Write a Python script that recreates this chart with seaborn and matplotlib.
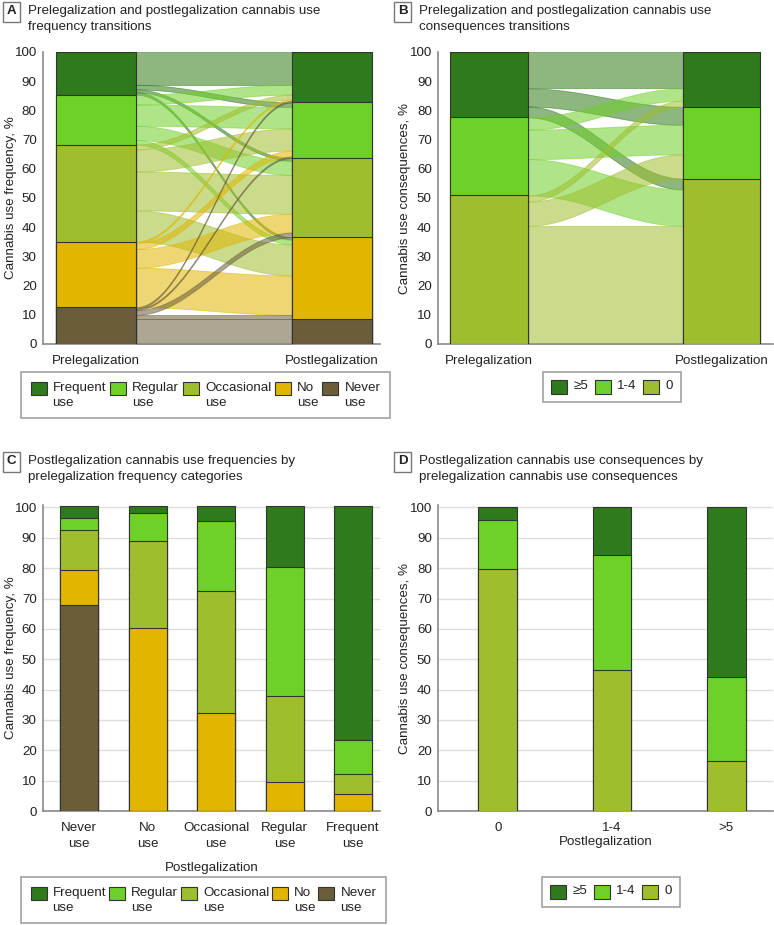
import numpy as np
import pandas as pd
import matplotlib
matplotlib.use("Agg")
import matplotlib.pyplot as plt
from matplotlib.patches import Patch
import seaborn as sns

# categories, listed top to bottom as stacked in the bars
freq_cats = ["Frequent use", "Regular use", "Occasional use", "No use", "Never use"]
freq_labels = ["Frequent\nuse", "Regular\nuse", "Occasional\nuse", "No\nuse", "Never\nuse"]
freq_colors = ["#2f7a1a", "#6ed127", "#9fbe2e", "#e1b500", "#6a5d3a"]
cons_cats = ["≥5", "1-4", "0"]
cons_colors = ["#2f7a1a", "#6ed127", "#9fbe2e"]
periods = ["Prelegalization", "Postlegalization"]

# A: prelegalization use frequency distribution, % (top to bottom)
pre_freq = [14.6, 17.1, 33.2, 22.5, 12.6]

# C: postlegalization frequency (%) within each prelegalization category
c_groups = ["Never\nuse", "No\nuse", "Occasional\nuse", "Regular\nuse", "Frequent\nuse"]
c_frequent = [4.0, 2.3, 5.0, 19.9, 77.1]
c_regular = [3.9, 9.2, 23.0, 42.7, 11.0]
c_occasional = [13.0, 28.7, 40.3, 28.4, 6.7]
c_no = [11.6, 60.2, 32.2, 9.4, 5.6]
c_never = [67.9, 0.0, 0.0, 0.0, 0.0]

# B: prelegalization consequences distribution, % (>=5, 1-4, 0)
pre_cons = [22.4, 26.7, 50.9]

# D: postlegalization consequences (%) within each prelegalization category
d_groups = ["0", "1-4", ">5"]
d_ge5 = [4.1, 15.7, 55.7]
d_1to4 = [16.3, 37.8, 27.7]
d_0 = [79.6, 46.5, 16.6]

sns.set_theme(style="white")
plt.rcParams["font.family"] = ["Liberation Sans", "DejaVu Sans"]
plt.rcParams["text.color"] = "#222222"
plt.rcParams["axes.labelcolor"] = "#222222"
plt.rcParams["xtick.color"] = "#222222"
plt.rcParams["ytick.color"] = "#222222"

FS = 9.6
EDGE = "#333333"
W, H = 774, 925

fig = plt.figure(figsize=(W / 100, H / 100), dpi=100)


def px_axes(x0, x1, y0, y1):
    return fig.add_axes([x0 / W, 1 - y1 / H, (x1 - x0) / W, (y1 - y0) / H])


def style_axes(ax, ylabel, x0, grid=False):
    for s in ["top", "right"]:
        ax.spines[s].set_visible(False)
    for s in ["left", "bottom"]:
        ax.spines[s].set_color("#8a8a8a")
        ax.spines[s].set_linewidth(1.2)
    ax.tick_params(axis="both", length=3, width=1, color="#8a8a8a", labelsize=FS)
    ax.tick_params(axis="y", pad=1.5)
    ax.tick_params(axis="x", pad=5)
    ax.set_yticks(range(0, 101, 10))
    ax.set_ylabel(ylabel, fontsize=FS)
    # place the y label near the figure's panel edge
    bbox = ax.get_position()
    ax.yaxis.set_label_coords((x0 + 17 - bbox.x0 * W) / (bbox.width * W), 0.5)
    if grid:
        ax.yaxis.grid(True, color="#dedede", lw=1)
        ax.set_axisbelow(True)


def stacked(ax, groups, layers, colors, width):
    # layers listed top to bottom; draw cumulative heights, tallest first
    vals = np.array(layers, dtype=float)
    for k in range(len(layers)):
        cum = vals[k:].sum(axis=0)
        df = pd.DataFrame({"group": groups, "cum": cum})
        sns.barplot(data=df, x="group", y="cum", order=groups, color=colors[k],
                    saturation=1, width=width, edgecolor=EDGE, linewidth=0.8,
                    errorbar=None, ax=ax, zorder=3)


def alluvial(ax, pre, share, colors, width):
    pre = np.array(pre, dtype=float)
    share = np.array(share, dtype=float)
    flows = pre[:, None] * share / share.sum(axis=1, keepdims=True)
    post = flows.sum(axis=0)
    src_top = 100 - np.concatenate([[0], np.cumsum(pre)[:-1]])
    dst_top = 100 - np.concatenate([[0], np.cumsum(post)[:-1]])
    xs = np.linspace(width / 2, 1 - width / 2, 200)
    t = (xs - xs[0]) / (xs[-1] - xs[0])
    s = (1 - np.cos(np.pi * t)) / 2
    n = len(pre)
    for i in range(n):
        for j in range(n):
            f = flows[i, j]
            if f <= 0:
                continue
            a = src_top[i] - flows[i, :j].sum()
            b = dst_top[j] - flows[:i, j].sum()
            top = a + (b - a) * s
            ax.fill_between(xs, top - f, top, facecolor=colors[i], edgecolor=colors[i],
                            alpha=0.55, lw=0.6, zorder=2)
    return post


def panel_title(letter, text, x_off, y_top):
    fig.text((x_off + 11.5) / W, 1 - (y_top + 8.5) / H, letter, ha="center", va="center",
             fontsize=FS, fontweight="bold",
             bbox=dict(boxstyle="square,pad=0.3", fc="white", ec="#777777", lw=1))
    fig.text((x_off + 28) / W, 1 - (y_top + 2) / H, text, ha="left", va="top", fontsize=FS,
             linespacing=1.45)


def legend(handles_colors, labels, x0, x1, y0, ncol, borderpad):
    handles = [Patch(facecolor=c, edgecolor=EDGE, lw=0.8) for c in handles_colors]
    leg = fig.legend(handles, labels, loc="upper left",
                     bbox_to_anchor=(x0 / W, 1 - y0 / H, (x1 - x0) / W, 0.001),
                     mode="expand", ncol=ncol, frameon=True, fancybox=False,
                     edgecolor="#8a8a8a", handlelength=1.2, handleheight=1.2,
                     handletextpad=0.45, columnspacing=0.8, borderpad=borderpad,
                     fontsize=FS, borderaxespad=0)
    leg.get_frame().set_linewidth(1.2)
    for txt in leg.get_texts():
        txt.set_linespacing(1.35)
    for col in leg._legend_handle_box.get_children():
        for row in col.get_children():
            row.align = "top"
    return leg


# ---- A: frequency transitions
c_share = np.array([c_frequent, c_regular, c_occasional, c_no, c_never]).T  # rows: pre Never..Frequent
share_a = c_share[::-1]  # rows: pre Frequent..Never
axA = px_axes(43, 380, 52, 344)
post_freq = alluvial(axA, pre_freq, share_a, freq_colors, 0.335)
stacked(axA, periods, [[p, q] for p, q in zip(pre_freq, post_freq)], freq_colors, 0.335)
axA.set_xlim(-0.2246, 1.2034)
axA.set_ylim(0, 100)
axA.set_xlabel("")
style_axes(axA, "Cannabis use frequency, %", 0)
legend(freq_colors, freq_labels, 21, 390, 373, 5, 0.72)

# ---- B: consequences transitions
d_share = np.array([d_ge5, d_1to4, d_0]).T  # rows: pre 0, 1-4, >5
share_b = d_share[::-1]
axB = px_axes(438, 773, 52, 344)
post_cons = alluvial(axB, pre_cons, share_b, cons_colors, 0.335)
stacked(axB, periods, [[p, q] for p, q in zip(pre_cons, post_cons)], cons_colors, 0.335)
axB.set_xlim(-0.219, 1.2215)
axB.set_ylim(0, 100)
axB.set_xlabel("")
style_axes(axB, "Cannabis use consequences, %", 394)
legend(cons_colors, cons_cats, 543, 681, 373, 3, 0.62)

# ---- C: frequency by prelegalization category
axC = px_axes(43, 380, 505, 811)
stacked(axC, c_groups, [c_frequent, c_regular, c_occasional, c_no, c_never], freq_colors, 0.555)
axC.set_xlim(-0.526, 4.394)
axC.set_ylim(0, 100.8)
style_axes(axC, "Cannabis use frequency, %", 0, grid=True)
for lab in axC.get_xticklabels():
    lab.set_linespacing(1.4)
axC.set_xlabel("Postlegalization", fontsize=FS, labelpad=9)
legend(freq_colors, freq_labels, 21, 386, 878, 5, 0.72)

# ---- D: consequences by prelegalization category
axD = px_axes(438, 773, 505, 811)
stacked(axD, d_groups, [d_ge5, d_1to4, d_0], cons_colors, 0.342)
axD.set_xlim(-0.526, 2.412)
axD.set_ylim(0, 100.8)
style_axes(axD, "Cannabis use consequences, %", 394, grid=True)
axD.set_xlabel("Postlegalization", fontsize=FS, labelpad=1)
legend(cons_colors, cons_cats, 542, 680, 878, 3, 0.62)

panel_title("A", "Prelegalization and postlegalization cannabis use\nfrequency transitions", 0, 3)
panel_title("B", "Prelegalization and postlegalization cannabis use\nconsequences transitions", 391, 3)
panel_title("C", "Postlegalization cannabis use frequencies by\nprelegalization frequency categories", 0, 453)
panel_title("D", "Postlegalization cannabis use consequences by\nprelegalization cannabis use consequences", 391, 453)

fig.savefig("out.png", dpi=100)
